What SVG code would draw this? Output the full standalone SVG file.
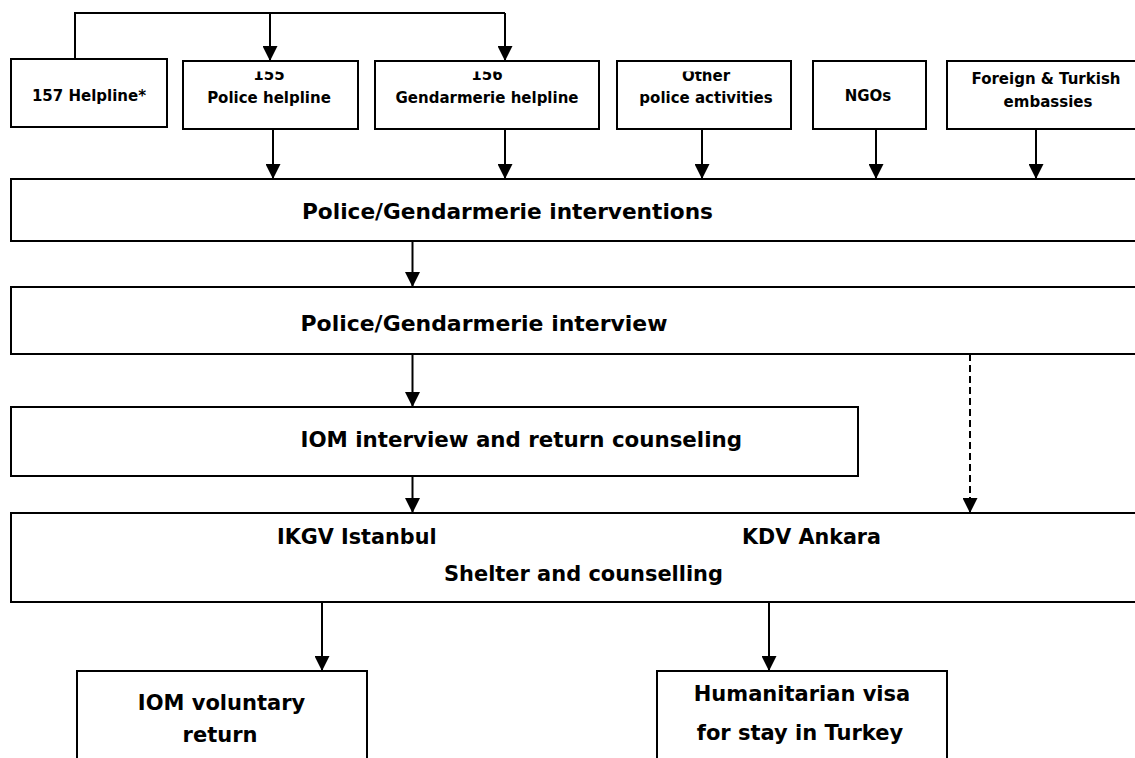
<svg xmlns="http://www.w3.org/2000/svg" width="1135" height="758" viewBox="0 0 1135 758">
<style>
.box{fill:#fff;stroke:#000;stroke-width:2}
.sm{font-family:"DejaVu Sans","Liberation Sans",sans-serif;font-weight:bold;font-size:15px;fill:#000;text-anchor:middle}
.lg{font-family:"DejaVu Sans","Liberation Sans",sans-serif;font-weight:bold;font-size:21px;fill:#000}
.c{text-anchor:middle}
.ln{fill:none;stroke:#000;stroke-width:2}
.arr{fill:none;stroke:#000;stroke-width:2;marker-end:url(#ah)}
.dash{stroke-dasharray:7 4}
</style>
<defs>
<marker id="ah" viewBox="0 0 15 15" refX="15" refY="7.5" markerWidth="15" markerHeight="15" markerUnits="userSpaceOnUse" orient="auto">
<path d="M0,0 L15,7.5 L0,15 z" fill="#000"/>
</marker>
<clipPath id="clipTop"><rect x="0" y="71.5" width="1135" height="100"/></clipPath>
</defs>
<rect width="1135" height="758" fill="#fff"/>

<g id="n157"><rect class="box" x="11" y="59" width="156" height="68"/><text class="sm" x="89" y="101">157  Helpline*</text></g>
<g id="n155"><rect class="box" x="183" y="61" width="175" height="68"/><text class="sm" x="269" y="80" clip-path="url(#clipTop)">155</text><text class="sm" x="269" y="103">Police helpline</text></g>
<g id="n156"><rect class="box" x="375" y="61" width="224" height="68"/><text class="sm" x="487" y="80" clip-path="url(#clipTop)">156</text><text class="sm" x="487" y="103">Gendarmerie helpline</text></g>
<g id="nOther"><rect class="box" x="617" y="61" width="174" height="68"/><text class="sm" x="706" y="81" clip-path="url(#clipTop)">Other</text><text class="sm" x="706" y="103">police activities</text></g>
<g id="nNGOs"><rect class="box" x="813" y="61" width="113" height="68"/><text class="sm" x="868" y="101">NGOs</text></g>
<g id="nEmb"><rect class="box" x="947" y="61" width="205" height="68"/><text class="sm" x="1046" y="84">Foreign &amp; Turkish</text><text class="sm" x="1048" y="107">embassies</text></g>

<g id="nInterventions"><rect class="box" x="11" y="179" width="1135" height="62"/><text class="lg" x="302" y="219" textLength="411" lengthAdjust="spacingAndGlyphs">Police/Gendarmerie interventions</text></g>
<g id="nInterview"><rect class="box" x="11" y="287" width="1135" height="67"/><text class="lg" x="300.5" y="331" textLength="367" lengthAdjust="spacingAndGlyphs">Police/Gendarmerie interview</text></g>
<g id="nIOM"><rect class="box" x="11" y="407" width="847" height="69"/><text class="lg" x="300.5" y="447" textLength="441.5" lengthAdjust="spacingAndGlyphs">IOM interview and return counseling</text></g>
<g id="nShelter"><rect class="box" x="11" y="513" width="1135" height="89"/>
<text class="lg" x="277" y="544" textLength="159.5" lengthAdjust="spacingAndGlyphs">IKGV Istanbul</text>
<text class="lg" x="742" y="544" textLength="139" lengthAdjust="spacingAndGlyphs">KDV Ankara</text>
<text class="lg" x="444" y="581" textLength="279" lengthAdjust="spacingAndGlyphs">Shelter and counselling</text></g>
<g id="nReturn"><rect class="box" x="77" y="671" width="290" height="95"/><text class="lg c" x="221.5" y="710">IOM voluntary</text><text class="lg c" x="220" y="741.5">return</text></g>
<g id="nVisa"><rect class="box" x="657" y="671" width="290" height="95"/><text class="lg c" x="802" y="701">Humanitarian visa</text><text class="lg c" x="800" y="740">for stay in Turkey</text></g>

<g id="connectors">
<path class="ln" d="M75,59 V13 H505"/>
<path class="arr" d="M270,13 V61"/>
<path class="arr" d="M505,13 V61"/>
<path class="arr" d="M273,129 V179"/>
<path class="arr" d="M505,129 V179"/>
<path class="arr" d="M702,129 V179"/>
<path class="arr" d="M876,129 V179"/>
<path class="arr" d="M1036,129 V179"/>
<path class="arr" d="M412.5,241 V287"/>
<path class="arr" d="M412.5,354 V407"/>
<path class="arr" d="M412.5,476 V513"/>
<path class="arr dash" d="M970,354 V513"/>
<path class="arr" d="M322,602 V671"/>
<path class="arr" d="M769,602 V671"/>
</g>
</svg>
